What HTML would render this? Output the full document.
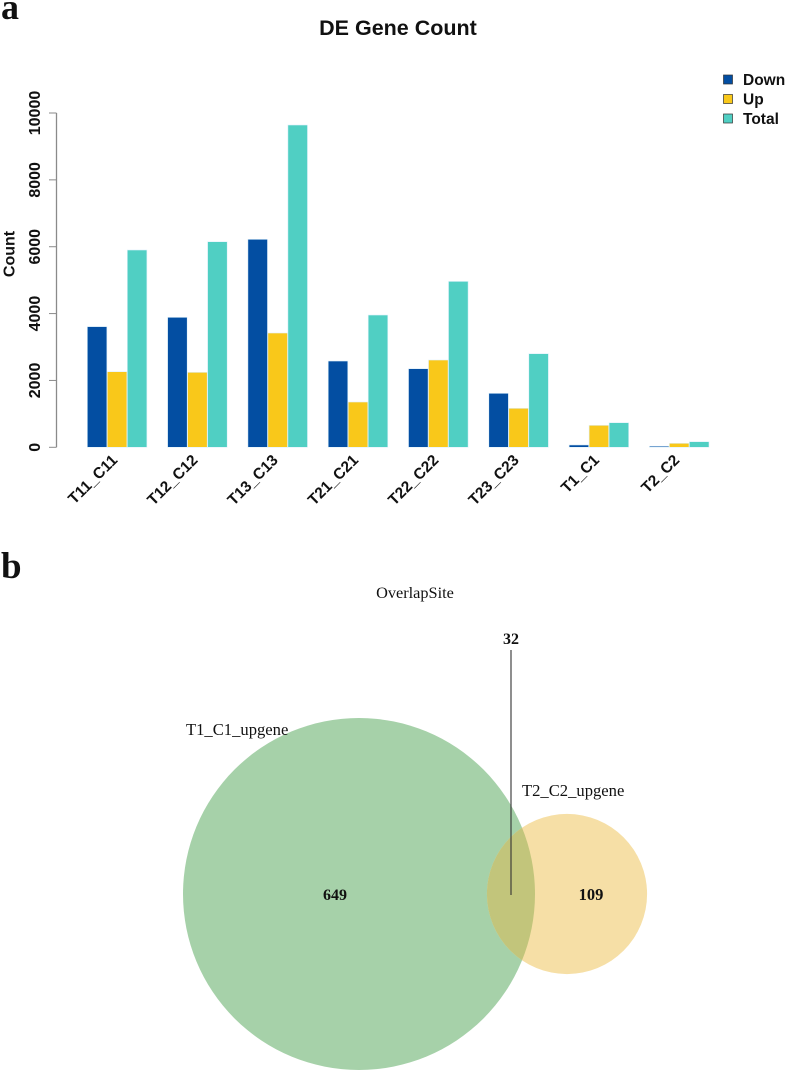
<!DOCTYPE html>
<html lang="en">
<head>
<meta charset="utf-8">
<title>DE Gene Count and OverlapSite</title>
<style>
html,body{margin:0;padding:0;background:#fff;}
svg{display:block;}
.sans{font-family:"Liberation Sans",sans-serif;fill:#111;}
.serif{font-family:"Liberation Serif",serif;fill:#111;}
</style>
</head>
<body>
<svg id="fig" xmlns="http://www.w3.org/2000/svg" width="787" height="1074" viewBox="0 0 787 1074">
  <rect x="0" y="0" width="787" height="1074" fill="#fff"/>
  <g id="soft" style="filter:blur(0.35px)">
    <text class="serif" x="1" y="19" font-size="36" font-weight="bold" fill="#000">a</text>
    <text class="serif" x="1" y="578" font-size="37" font-weight="bold" fill="#000">b</text>
    <text class="sans" x="398" y="35" font-size="21.5" font-weight="bold" text-anchor="middle">DE Gene Count</text>
    <text class="sans" transform="translate(14.5 254) rotate(-90)" font-size="16" font-weight="bold" text-anchor="middle">Count</text>
    <g id="bars"></g>
    <g id="yaxis"></g>
    <g id="xlabels"></g>
    <g id="legend"></g>
    <text class="serif" x="415" y="598" font-size="16.3" text-anchor="middle">OverlapSite</text>
    <g id="venn"></g>
  </g>
</svg>
<script>
const categories = ["T11_C11","T12_C12","T13_C13","T21_C21","T22_C22","T23_C23","T1_C1","T2_C2"];
const seriesNames = ["Down","Up","Total"];
const downValues = [3610,3888,6222,2581,2352,1615,70,32];
const upValues = [2262,2243,3419,1355,2611,1167,658,120];
const totalValues = [5902,6150,9641,3957,4963,2800,736,168];
const yTicks = [0,2000,4000,6000,8000,10000];
const vennLeftOnly = 649;
const vennRightOnly = 109;
const vennShared = 32;
const vennLeftName = "T1_C1_upgene";
const vennRightName = "T2_C2_upgene";

const NS = "http://www.w3.org/2000/svg";
const seriesColors = ["#034ea2","#f9c81a","#50cfc3"];
const seriesData = [downValues, upValues, totalValues];

function y(v){ return 447.3 - v * 0.03343; }
function groupX(i){ return 87.3 + i * 80.3; }
function barX(i, s){ return groupX(i) + s * 20; }
function make(tag, attrs, parent){
  const el = document.createElementNS(NS, tag);
  for (const k in attrs) el.setAttribute(k, attrs[k]);
  parent.appendChild(el);
  return el;
}

const barsG = document.getElementById("bars");
categories.forEach(function(cat, i){
  seriesData.forEach(function(vals, s){
    const top = y(vals[i]);
    const r = make("rect", {x: barX(i, s), y: top, width: 19.6, height: Math.max(y(0) - top, 0.5), fill: seriesColors[s], stroke: "#dff1fb", "stroke-width": 0.6}, barsG);
    
    
  });
});

const axisG = document.getElementById("yaxis");
const axisLine = make("line", {x1: 56.5, x2: 56.5, y1: y(yTicks[0]), y2: y(yTicks[yTicks.length - 1]), stroke: "#8a8a8a", "stroke-width": 1.3}, axisG);


yTicks.forEach(function(t){
  const tick = make("line", {x1: 49, x2: 56.5, y1: y(t), y2: y(t), stroke: "#8a8a8a", "stroke-width": 1}, axisG);
  
  
  const lab = make("text", {class: "sans", transform: "translate(40 " + y(t) + ") rotate(-90)", "font-size": 16, "font-weight": "bold", "text-anchor": "middle"}, axisG);
  lab.textContent = String(t);
  
  
});

const xG = document.getElementById("xlabels");
categories.forEach(function(cat, i){
  const ax = groupX(i) + 31;
  const lab = make("text", {class: "sans", transform: "translate(" + ax + " 461) rotate(-45)", "font-size": 15.5, "font-weight": "bold", "text-anchor": "end"}, xG);
  lab.textContent = cat;
  
  
});

const legG = document.getElementById("legend");
seriesNames.forEach(function(name, s){
  const ly = 79.5 + s * 19.5;
  const sw = make("rect", {x: 723.5, y: ly - 4.5, width: 9, height: 9, fill: seriesColors[s], stroke: "#333", "stroke-width": 0.7}, legG);
  
  
  const lab = make("text", {class: "sans", x: 743, y: ly + 5.5, "font-size": 15.5, "font-weight": "bold"}, legG);
  lab.textContent = name;
  
  
});

const vennG = document.getElementById("venn");
const vennScale = 176 / Math.sqrt(681);
const r1 = vennScale * Math.sqrt(vennLeftOnly + vennShared);
const r2 = vennScale * Math.sqrt(vennRightOnly + vennShared);
const cx1 = 359, cx2 = 567, cyV = 894;

const defs = make("defs", {}, vennG);
const clip = make("clipPath", {id: "leftClip"}, defs);
make("circle", {cx: cx1, cy: cyV, r: r1}, clip);

const c1 = make("circle", {cx: cx1, cy: cyV, r: r1, fill: "#a6d1a9"}, vennG);


const c2 = make("circle", {cx: cx2, cy: cyV, r: r2, fill: "#f6dfa6"}, vennG);


const c3 = make("circle", {cx: cx2, cy: cyV, r: r2, fill: "#c2c57b", "clip-path": "url(#leftClip)"}, vennG);



const leader = make("line", {x1: 511, x2: 511, y1: 650, y2: 895, stroke: "#333", "stroke-width": 1.1}, vennG);



const nameL = make("text", {class: "serif", x: 186, y: 735, "font-size": 16.6}, vennG);
nameL.textContent = vennLeftName;


const nameR = make("text", {class: "serif", x: 522, y: 796, "font-size": 16.6}, vennG);
nameR.textContent = vennRightName;



const numL = make("text", {class: "serif", x: 335, y: 900, "font-size": 16, "font-weight": "bold", "text-anchor": "middle", fill: "#000"}, vennG);
numL.textContent = String(vennLeftOnly);


const numR = make("text", {class: "serif", x: 591, y: 900, "font-size": 16.5, "font-weight": "bold", "text-anchor": "middle", fill: "#000"}, vennG);
numR.textContent = String(vennRightOnly);


const numS = make("text", {class: "serif", x: 511, y: 644, "font-size": 16, "font-weight": "bold", "text-anchor": "middle", fill: "#000"}, vennG);
numS.textContent = String(vennShared);


</script>
</body>
</html>
